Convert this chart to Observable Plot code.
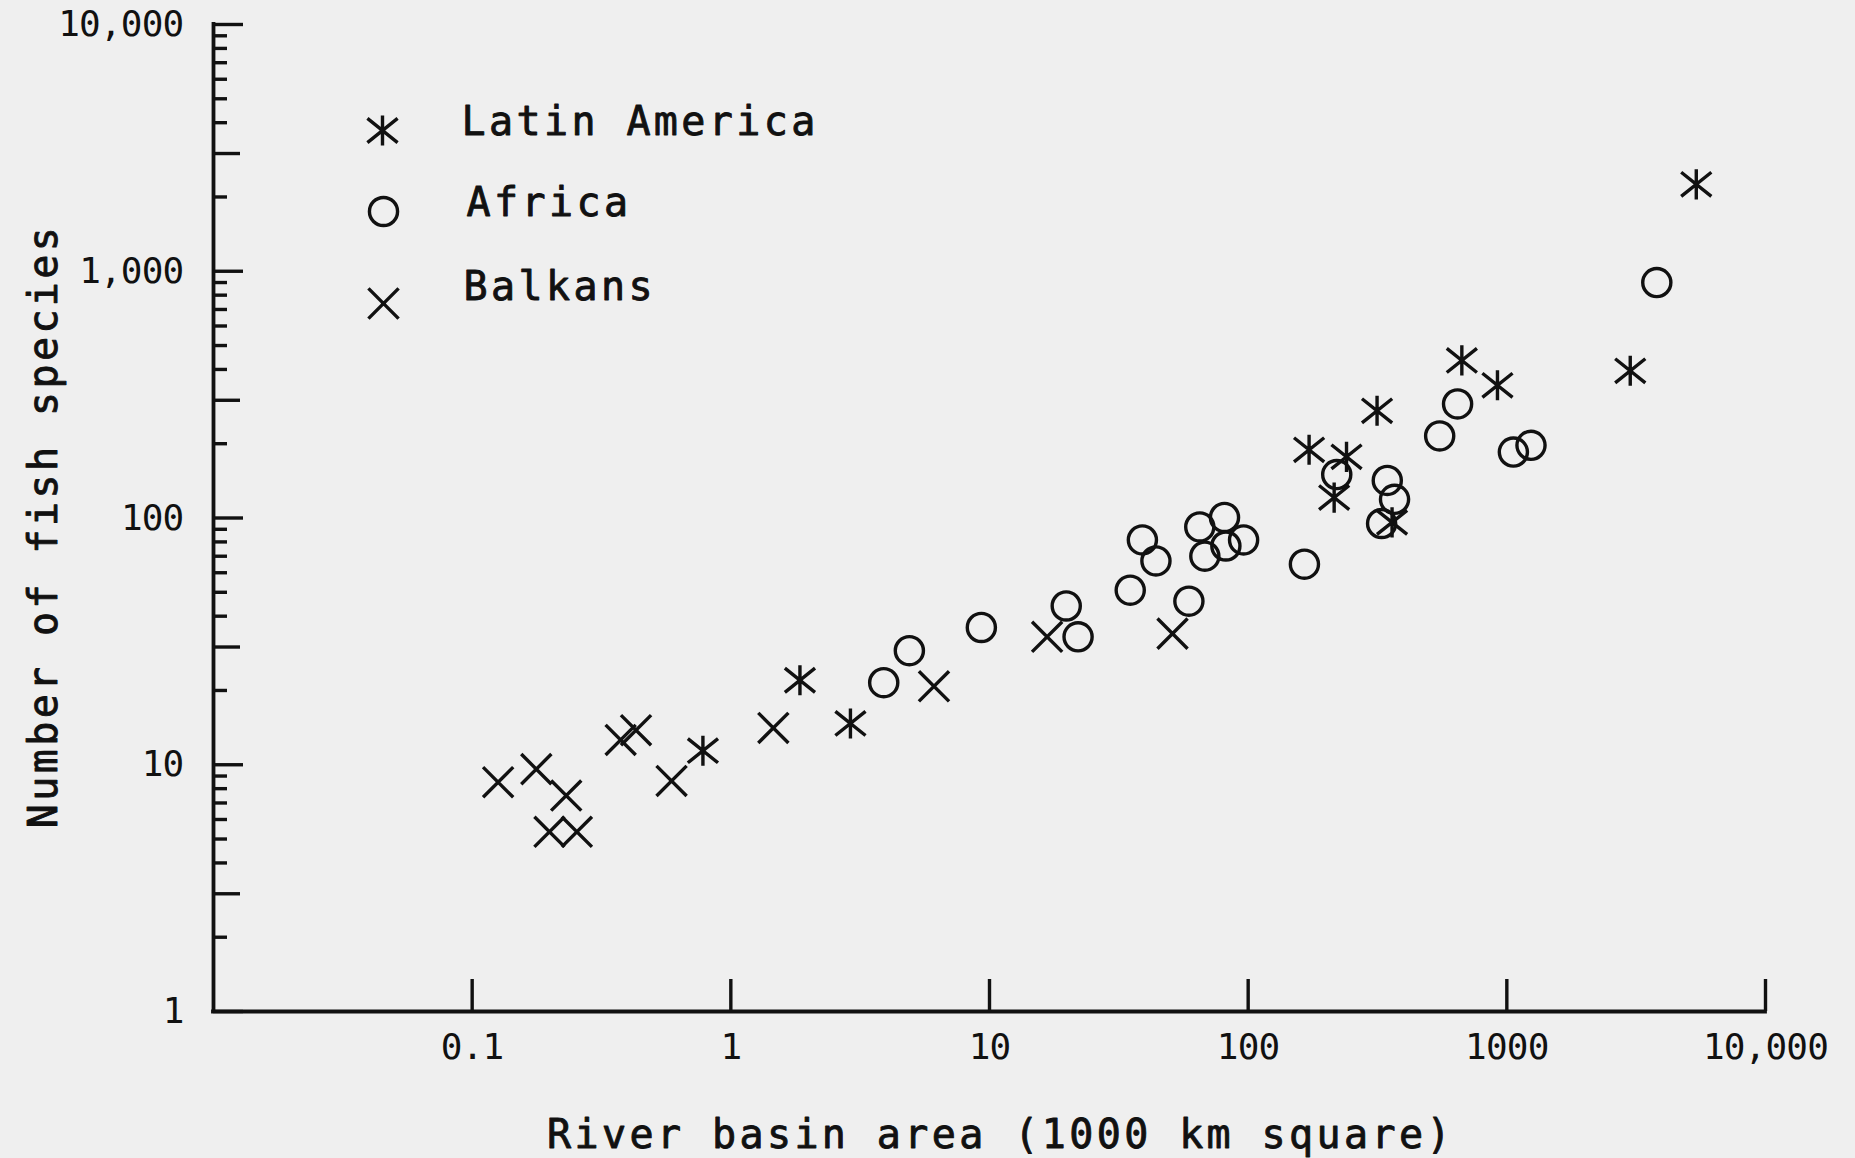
<!DOCTYPE html>
<html>
<head>
<meta charset="utf-8">
<script src="https://cdn.jsdelivr.net/npm/d3@7"></script>
<script src="https://cdn.jsdelivr.net/npm/@observablehq/plot@0.6"></script>
<style>
  html, body { margin: 0; padding: 0; background: #efefef; }
  #chart svg { display: block; }
</style>
</head>
<body>
<div id="chart"></div>
<script>
// ---- Data ----
const categories = ["Latin America", "Africa", "Balkans"];

const latinAmericaArea    = [5400, 3000, 670, 920, 315, 172, 240, 215, 360, 1.85, 2.9, 0.78];
const latinAmericaSpecies = [2250, 395, 435, 345, 272, 189, 177, 121, 96, 22, 14.7, 11.4];

const africaArea    = [3800, 645, 550, 1060, 1240, 220, 345, 368, 328, 81, 65, 96, 82, 68, 39, 44, 165, 35, 59, 19.8, 22, 9.3, 4.9, 3.9];
const africaSpecies = [900, 290, 215, 185, 197, 150, 142, 119, 95, 100.5, 92, 81.5, 77, 70, 81.5, 67, 65, 51, 46, 44, 33, 36, 29, 21.5];

const balkansArea    = [0.126, 0.177, 0.231, 0.199, 0.254, 0.375, 0.43, 0.59, 1.46, 6.1, 16.7, 51];
const balkansSpecies = [8.5, 9.6, 7.5, 5.35, 5.35, 12.6, 13.8, 8.6, 14.1, 20.8, 33, 34];

const xDomain = [0.01, 10000];
const yDomain = [1, 10000];

const xTickValues = [0.1, 1, 10, 100, 1000, 10000];
const xTickLabels = ["0.1", "1", "10", "100", "1000", "10,000"];
const yTickValues = [1, 10, 100, 1000, 10000];
const yTickLabels = ["1", "10", "100", "1,000", "10,000"];
const yMediumTicks = [3, 30, 300, 3000];
const yMinorTicks = [1, 10, 100, 1000].flatMap(d => [2, 4, 5, 6, 7, 8, 9].map(m => m * d));

const xTitle = "River basin area (1000 km square)";
const yTitle = "Number of fish species";

// ---- Build table ----
const points = [
  ...latinAmericaArea.map((a, i) => ({region: categories[0], area: a, species: latinAmericaSpecies[i]})),
  ...africaArea.map((a, i) => ({region: categories[1], area: a, species: africaSpecies[i]})),
  ...balkansArea.map((a, i) => ({region: categories[2], area: a, species: balkansSpecies[i]}))
];

// ---- Custom plotter-like symbols ----
const asterisk = {draw(ctx, size) {
  const r = Math.sqrt(size / Math.PI) * 1.04, h = r * 0.8;
  ctx.moveTo(0, -r); ctx.lineTo(0, r);
  ctx.moveTo(-r, -h); ctx.lineTo(r, h);
  ctx.moveTo(-r, h); ctx.lineTo(r, -h);
}};
const circle = {draw(ctx, size) {
  const r = Math.sqrt(size / Math.PI) * 0.97;
  ctx.moveTo(r, 0); ctx.arc(0, 0, r, 0, 2 * Math.PI);
}};
const times = {draw(ctx, size) {
  const r = Math.sqrt(size / Math.PI) * 1.04;
  ctx.moveTo(-r, -r); ctx.lineTo(r, r);
  ctx.moveTo(-r, r); ctx.lineTo(r, -r);
}};
const symbols = [asterisk, circle, times];

const FONT = "'DejaVu Sans Mono', monospace";
const INK = "#111";
const TEXT_STROKE = {stroke: INK, strokeWidth: 0.9};

const legendSymbolDx = [169, 170, 170];
const legendSymbolDy = [106, 187, 279];
const legendTextDx = [248, 253, 250];
const legendTextDy = [98, 179, 263];

const legendMarks = categories.flatMap((c, i) => [
  Plot.dot([c], {frameAnchor: "top-left", dx: legendSymbolDx[i], dy: legendSymbolDy[i], symbol: symbols[i], r: 14.5, stroke: INK, strokeWidth: 3.4, fill: "none"}),
  Plot.text([c], {frameAnchor: "top-left", dx: legendTextDx[i], dy: legendTextDy[i], textAnchor: "start", lineAnchor: "middle", fontSize: 40, fill: INK, ...TEXT_STROKE})
]);

const chart = Plot.plot({
  width: 1855,
  height: 1158,
  marginLeft: 213,
  marginRight: 90,
  marginTop: 24,
  marginBottom: 147,
  style: {background: "#efefef", color: INK, fontFamily: FONT, letterSpacing: "3.4px"},
  x: {type: "log", domain: xDomain, axis: null, label: null},
  y: {type: "log", domain: yDomain, axis: null, label: null},
  symbol: {domain: categories, range: symbols},
  marks: [
    Plot.ruleX([xDomain[0]], {stroke: INK, strokeWidth: 3.8, strokeLinecap: "square"}),
    Plot.ruleY([yDomain[0]], {stroke: INK, strokeWidth: 3.8, strokeLinecap: "square"}),
    Plot.axisY(yTickValues, {tickSize: -30, tickFormat: () => "", strokeWidth: 3.4, stroke: INK, label: null}),
    Plot.axisY(yMediumTicks, {tickSize: -27, tickFormat: () => "", strokeWidth: 3.4, stroke: INK, label: null}),
    Plot.axisY(yMinorTicks, {tickSize: -14, tickFormat: () => "", strokeWidth: 3.4, stroke: INK, label: null}),
    Plot.axisY(yTickValues, {tickSize: 0, tickPadding: 30, tickFormat: d => yTickLabels[yTickValues.indexOf(d)], fontSize: 36, fill: INK, ...TEXT_STROKE, label: null}),
    Plot.axisX(xTickValues, {tickSize: -32, tickFormat: () => "", strokeWidth: 3.4, stroke: INK, label: null}),
    Plot.axisX(xTickValues, {tickSize: 0, tickPadding: 22, tickFormat: d => xTickLabels[xTickValues.indexOf(d)], fontSize: 36, fill: INK, ...TEXT_STROKE, label: null}),
    Plot.text([xTitle], {frameAnchor: "bottom", textAnchor: "middle", lineAnchor: "middle", dx: 11, dy: 124, fontSize: 40, fill: INK, ...TEXT_STROKE}),
    Plot.text([yTitle], {frameAnchor: "left", textAnchor: "middle", lineAnchor: "middle", rotate: -90, dx: -169, dy: 8, fontSize: 40, fill: INK, ...TEXT_STROKE}),
    Plot.dot(points, {x: "area", y: "species", symbol: "region", r: 14.5, stroke: INK, strokeWidth: 3.4, fill: "none"}),
    ...legendMarks
  ]
});

// tighter spacing for tick labels
d3.select(chart).selectAll("g[aria-label$='tick label'] text").style("letter-spacing", "-0.8px");

document.getElementById("chart").appendChild(chart);
</script>
</body>
</html>
